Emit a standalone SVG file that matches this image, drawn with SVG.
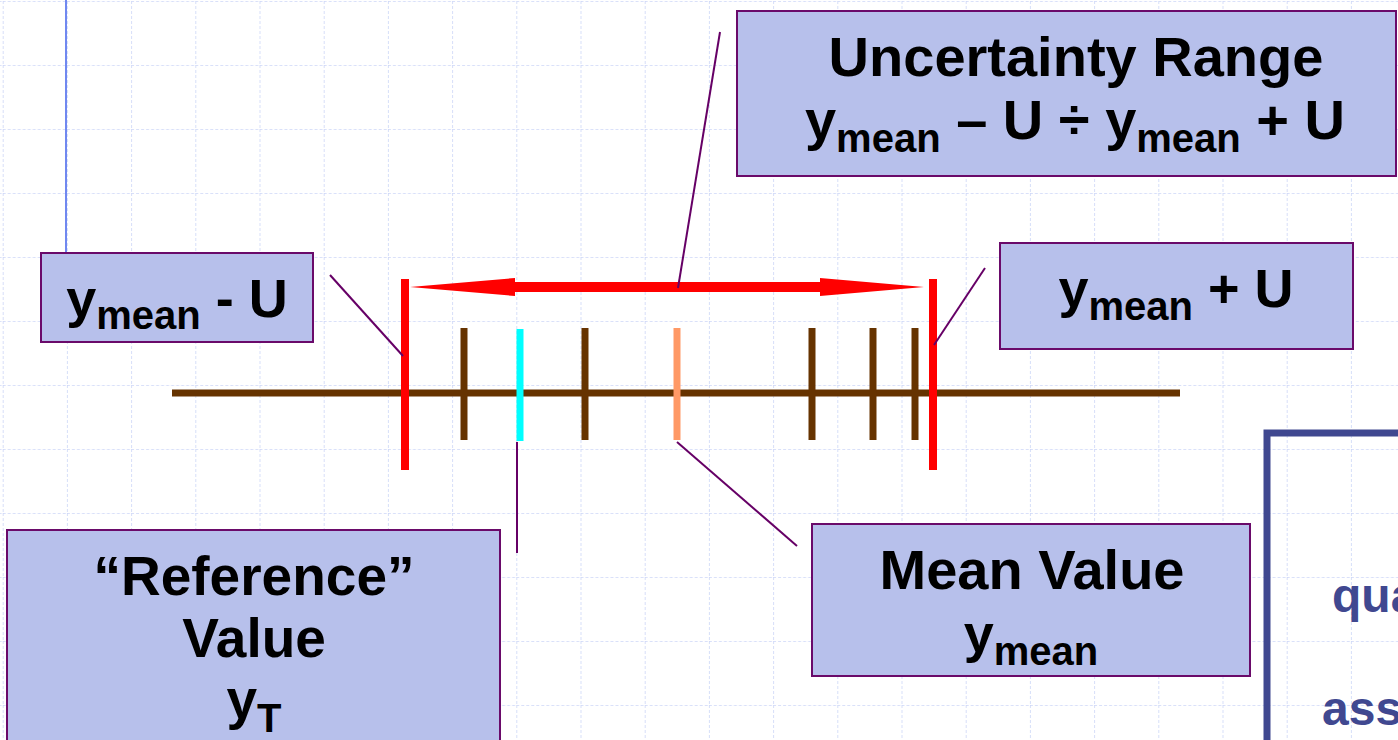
<svg xmlns="http://www.w3.org/2000/svg" width="1398" height="740" viewBox="0 0 1398 740">
<defs>
<pattern id="grid" x="2.7" y="1" width="64.2" height="64" patternUnits="userSpaceOnUse">
<path d="M0 0 H64.2 M0 0 V64" fill="none" stroke="#cdd6f7" stroke-width="1.6" stroke-dasharray="3 2"/>
</pattern>
</defs>
<style>
.box{fill:#b7c0eb;stroke:#6a0a6a;stroke-width:2}
.t{font-family:"Liberation Sans",Arial,sans-serif;font-weight:bold;font-size:54px;fill:#000;text-anchor:middle}
.big{font-size:56px}
.sub{font-size:40px}
.conn{stroke:#660066;stroke-width:2;fill:none}
.tick{stroke:#663300;stroke-width:7}
.red{stroke:#ff0000;stroke-width:8}
.bt{font-family:"Liberation Sans",Arial,sans-serif;font-weight:bold;font-size:48px;fill:#404890}
</style>
<rect width="1398" height="740" fill="#fff"/>
<rect width="1398" height="740" fill="url(#grid)"/>
<line x1="66" y1="0" x2="66" y2="253" stroke="#7088f0" stroke-width="2"/>

<g id="axis">
<line x1="172" y1="393" x2="1180" y2="393" stroke="#663300" stroke-width="7"/>
<line class="tick" x1="464" y1="328" x2="464" y2="440"/>
<line class="tick" x1="585" y1="328" x2="585" y2="440"/>
<line class="tick" x1="812" y1="328" x2="812" y2="440"/>
<line class="tick" x1="873" y1="328" x2="873" y2="440"/>
<line class="tick" x1="915" y1="328" x2="915" y2="440"/>
<line x1="520" y1="329" x2="520" y2="441" stroke="#00ffff" stroke-width="7"/>
<line x1="677" y1="328" x2="677" y2="440" stroke="#ff9966" stroke-width="7"/>
<line class="red" x1="405" y1="279" x2="405" y2="470"/>
<line class="red" x1="933" y1="279" x2="933" y2="470"/>
<path d="M410 287 L515 278 L515 282 L820 282 L820 278 L924 287 L820 296 L820 292 L515 292 L515 296 Z" fill="#ff0000"/>
</g>

<g id="connectors">
<line class="conn" x1="330" y1="275" x2="403" y2="356"/>
<line class="conn" x1="720" y1="32" x2="678" y2="288"/>
<line class="conn" x1="985" y1="268" x2="934" y2="345"/>
<line class="conn" x1="517" y1="442" x2="517" y2="553"/>
<line class="conn" x1="677" y1="442" x2="797" y2="546"/>
</g>

<g id="node-lower">
<rect class="box" x="41" y="253" width="272" height="89"/>
<text class="t" x="177" y="317">y<tspan class="sub" dy="12">mean</tspan><tspan dy="-12"> - U</tspan></text>
</g>

<g id="node-range">
<rect class="box" x="737" y="11" width="659" height="165"/>
<text class="t big" x="1076" y="76">Uncertainty Range</text>
<text class="t big" x="1075" y="139">y<tspan class="sub" dy="13">mean</tspan><tspan dy="-13"> – U ÷ y</tspan><tspan class="sub" dy="13">mean</tspan><tspan dy="-13"> + U</tspan></text>
</g>

<g id="node-upper">
<rect class="box" x="1000" y="243" width="353" height="106"/>
<text class="t" x="1176" y="307">y<tspan class="sub" dy="13">mean</tspan><tspan dy="-13"> + U</tspan></text>
</g>

<g id="node-reference">
<rect class="box" x="7" y="530" width="493" height="220"/>
<text class="t" x="254" y="595" style="font-size:55px">“Reference”</text>
<text class="t" x="254" y="657" style="font-size:55px">Value</text>
<text class="t" x="254" y="718" style="font-size:55px">y<tspan class="sub" dy="14">T</tspan></text>
</g>

<g id="node-mean">
<rect class="box" x="812" y="524" width="438" height="152"/>
<text class="t big" x="1032" y="589">Mean Value</text>
<text class="t" x="1031" y="652">y<tspan class="sub" dy="13">mean</tspan></text>
</g>

<g id="node-quality">
<rect x="1267" y="433" width="200" height="340" fill="none" stroke="#404890" stroke-width="7"/>
<text class="bt" x="1332" y="612">qua</text>
<text class="bt" x="1322" y="725">ass</text>
</g>
</svg>
